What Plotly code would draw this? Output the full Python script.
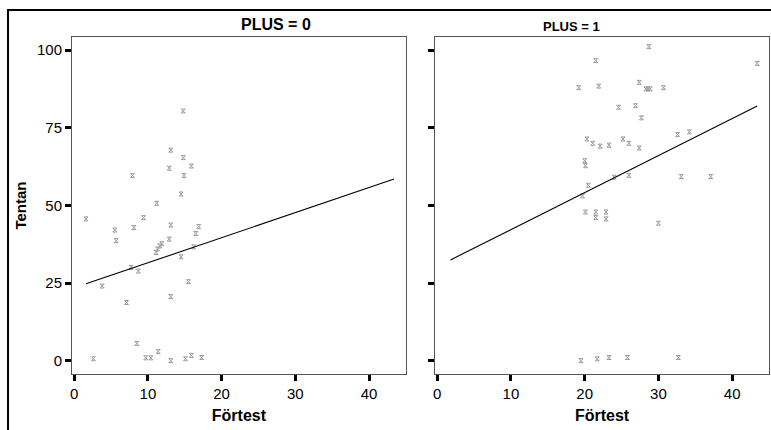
import plotly.graph_objects as go

# PLUS = 0 panel
fortest_0 = [14.8, 13.1, 14.8, 12.9, 15.9, 14.9, 7.9, 14.5, 11.2,
             1.6, 9.4, 5.5, 8.1, 13.1, 16.9, 16.5, 5.7, 12.9,
             11.9, 11.6, 11.3, 11.1, 16.2, 14.5, 7.7, 8.7, 15.5, 3.8,
             13.1, 7.1, 8.5, 2.6, 9.7, 10.4, 11.4, 13.1, 15.1, 15.9, 17.3]
tentan_0 = [80.4, 67.8, 65.4, 62.0, 62.7, 59.6, 59.6, 53.7, 50.7,
            45.7, 46.1, 42.1, 42.9, 43.7, 43.2, 41.0, 38.7, 39.2,
            37.7, 37.0, 36.0, 34.9, 36.7, 33.5, 30.1, 28.9, 25.5, 24.1,
            20.7, 18.8, 5.6, 0.7, 1.0, 1.0, 3.0, 0.1, 0.7, 1.8, 1.1]

# PLUS = 1 panel
fortest_1 = [28.7, 43.4, 21.5, 19.2, 21.9, 27.4, 28.3, 28.6, 28.9, 30.7,
             24.6, 26.9, 27.7, 32.6, 34.2, 20.3, 21.1, 22.1, 23.3, 25.2,
             26.0, 27.4, 20.0, 20.1, 20.5, 24.0, 26.0, 33.1, 37.1, 19.7,
             20.1, 21.5, 22.9, 21.5, 22.9, 30.0,
             19.5, 21.7, 23.3, 25.8, 32.7]
tentan_1 = [101.1, 95.7, 96.6, 87.9, 88.4, 89.6, 87.5, 87.5, 87.5, 87.9,
            81.6, 82.1, 78.2, 72.8, 73.7, 71.4, 70.0, 69.1, 69.4, 71.4,
            70.0, 68.5, 64.4, 62.8, 56.5, 59.1, 59.7, 59.3, 59.3, 53.1,
            47.9, 47.9, 47.9, 46.1, 45.7, 44.3,
            0.1, 0.7, 1.1, 1.1, 1.1]

# fitted regression lines (endpoints)
fit_x_0 = [1.6, 43.4]
fit_y_0 = [24.8, 58.5]
fit_x_1 = [1.8, 43.4]
fit_y_1 = [32.5, 82.0]

x_ticks = [0, 10, 20, 30, 40]
y_ticks = [0, 25, 50, 75, 100]

FONT = "Liberation Sans, Arial, sans-serif"
marker_color = "#9a9a9a"

fig = go.Figure()

for xs, ys, fx, fy, xa, ya in [
    (fortest_0, tentan_0, fit_x_0, fit_y_0, "x", "y"),
    (fortest_1, tentan_1, fit_x_1, fit_y_1, "x2", "y2"),
]:
    fig.add_trace(go.Scatter(
        x=xs, y=ys, mode="markers",
        marker=dict(symbol="hourglass-open", size=4,
                    color=marker_color, line=dict(color=marker_color, width=1)),
        xaxis=xa, yaxis=ya, showlegend=False))
    fig.add_trace(go.Scatter(
        x=fx, y=fy, mode="lines", line=dict(color="black", width=1.1),
        xaxis=xa, yaxis=ya, showlegend=False))

axis_common = dict(
    showgrid=False, zeroline=False, showline=True, linecolor="#555555",
    linewidth=1, mirror=True, ticks="outside", ticklen=6, tickwidth=3,
    tickcolor="black", tickfont=dict(family=FONT, size=15, color="black"),
)

d0 = [0, 0.479]
d1 = [0.5208, 1.0]

fig.update_layout(
    width=771, height=430,
    margin=dict(l=72, r=2, t=37, b=56),
    paper_bgcolor="white", plot_bgcolor="white",
    font=dict(family=FONT, color="black"),
    xaxis=dict(domain=d0, range=[-0.3, 45], tickvals=x_ticks, anchor="y",
               title=dict(text="<b>Förtest</b>", font=dict(size=16), standoff=8),
               **axis_common),
    yaxis=dict(range=[-4.2, 104.2], tickvals=y_ticks, anchor="x",
               title=dict(text="<b>Tentan</b>", font=dict(size=15), standoff=6),
               **axis_common),
    xaxis2=dict(domain=d1, range=[-0.3, 45], tickvals=x_ticks, anchor="y2",
                title=dict(text="<b>Förtest</b>", font=dict(size=16), standoff=8),
                **axis_common),
    yaxis2=dict(range=[-4.2, 104.2], tickvals=y_ticks, anchor="x2",
                showticklabels=False, **axis_common),
    annotations=[
        dict(text="<b>PLUS = 0</b>", xref="paper", yref="paper",
             x=sum(d0) / 2, y=1.0, yanchor="bottom", yshift=2, showarrow=False,
             font=dict(family=FONT, size=16, color="black")),
        dict(text="<b>PLUS = 1</b>", xref="paper", yref="paper",
             x=sum(d1) / 2, y=1.0, yanchor="bottom", yshift=1, showarrow=False,
             font=dict(family=FONT, size=13, color="black")),
    ],
    shapes=[
        dict(type="rect", xref="paper", yref="paper",
             x0=-0.0918, x1=1.03, y0=-0.25, y1=1.0801,
             line=dict(color="black", width=2), fillcolor="rgba(0,0,0,0)",
             layer="below"),
    ],
)

fig.write_html("out.html")
